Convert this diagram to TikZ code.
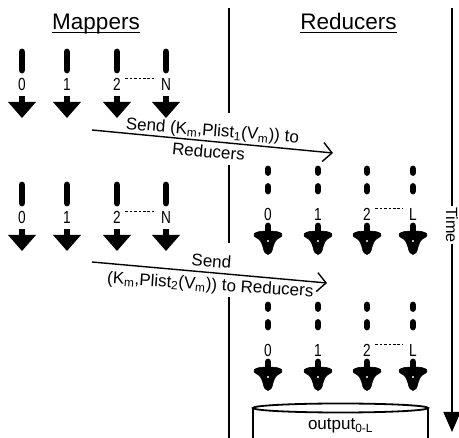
\documentclass[tikz,border=0pt]{standalone}
\usepackage{fontspec}
\setmainfont{Liberation Sans}
\usepackage{graphicx}
\usetikzlibrary{arrows.meta}
\tikzset{
  bar/.style={line width=6.8pt, line cap=round},
  digit/.style={inner sep=1.5pt, font=\fontsize{17.5}{19}\selectfont},
  dotline/.style={line width=1.3pt, dash pattern=on 2.6pt off 1.8pt, shorten <=3pt, shorten >=5pt},
  sendline/.style={line width=1.4pt, -{Straight Barb[length=9pt,width=19pt,line width=1.4pt]}},
  sendtext/.style={inner sep=0pt, anchor=base, font=\fontsize{17}{20}\selectfont},
  divider/.style={line width=1.8pt},
  title/.style={inner sep=0pt, anchor=base, font=\fontsize{22.5}{26}\selectfont},
  uline/.style={line width=1.1pt},
  timeline/.style={line width=1.8pt, -{Triangle[length=20pt,width=17pt]}},
  drum/.style={line width=1.8pt},
}
\newcommand{\dg}[1]{\scalebox{0.78}[1]{#1}}
\newcommand{\mapperunit}[4]{%
  \draw[bar] (#1,#2-32) -- (#1,#2-14);
  \node[digit] (#4) at (#1,#2) {\dg{#3}};
  \fill (#1-3.4,#2+12) rectangle (#1+3.4,#2+19);
  \fill (#1-14,#2+18) -- (#1+14,#2+18) -- (#1,#2+34) -- cycle;
}
\newcommand{\reducerunit}[4]{%
  \draw[bar] (#1,#2-45) -- (#1,#2-41.5);
  \draw[bar] (#1,#2-27.5) -- (#1,#2-23);
  \node[digit] (#4) at (#1,#2) {\dg{#3}};
  \draw[bar] (#1,#2+12) -- (#1,#2+20);
  \begin{scope}[shift={(#1,#2+17)}]
    \filldraw[line width=0.6pt, line join=round]
      (0,0) .. controls (-6,0) and (-11,0.5) .. (-13.5,2.5)
      .. controls (-14.8,3.8) and (-13.8,6) .. (-12,6.5)
      .. controls (-8,8) and (-6.5,11) .. (-5,16)
      .. controls (-4,21.5) and (-2,23.5) .. (0,23.5)
      .. controls (2,23.5) and (4,21.5) .. (5,16)
      .. controls (6.5,11) and (8,8) .. (12,6.5)
      .. controls (13.8,6) and (14.8,3.8) .. (13.5,2.5)
      .. controls (11,0.5) and (6,0) .. (0,0) -- cycle;
    \fill[white] (0,10) circle[radius=1.1pt];
  \end{scope}
}
\begin{document}
\begin{tikzpicture}[x=1pt,y=-1pt]
\useasboundingbox (0,0) rectangle (459,438);

% titles
\node[title] (mt) at (96,30) {Mappers};
\node[title] (rt) at (348.5,30) {Reducers};
\draw[uline] ([yshift=-2.6pt]mt.base west) -- ([yshift=-2.6pt]mt.base east);
\draw[uline] ([yshift=-2.6pt]rt.base west) -- ([yshift=-2.6pt]rt.base east);

% divider
\draw[divider] (229,8) -- (229,113);
\draw[divider] (229,165) -- (229,243);
\draw[divider] (229,297) -- (229,438);

% mappers row 1
\mapperunit{22}{84}{0}{m10}
\mapperunit{67}{84}{1}{m11}
\mapperunit{117}{84}{2}{m12}
\mapperunit{166}{84}{N}{m1N}
\draw[dotline] ([yshift=5.5pt]m12.east) -- ([yshift=5.5pt]m1N.west);

% mappers row 2
\mapperunit{22}{217}{0}{m20}
\mapperunit{67}{217}{1}{m21}
\mapperunit{117}{217}{2}{m22}
\mapperunit{166}{217}{N}{m2N}
\draw[dotline] ([yshift=5.5pt]m22.east) -- ([yshift=5.5pt]m2N.west);

% reducers row 1
\reducerunit{268}{214}{0}{r10}
\reducerunit{318}{214}{1}{r11}
\reducerunit{367}{214}{2}{r12}
\reducerunit{413}{214}{L}{r1L}
\draw[dotline] ([yshift=5.5pt]r12.east) -- ([yshift=5.5pt]r1L.west);

% reducers row 2
\reducerunit{268}{350}{0}{r20}
\reducerunit{318}{350}{1}{r21}
\reducerunit{367}{350}{2}{r22}
\reducerunit{413}{350}{L}{r2L}
\draw[dotline] ([yshift=5.5pt]r22.east) -- ([yshift=5.5pt]r2L.west);

% send arrow 1
\coordinate (s1a) at (92,130);
\coordinate (s1b) at (333,153);
\draw[sendline] (s1a) -- (s1b);
\node[sendtext, rotate=-4.5] (s1t) at (212,136) {Send (K\textsubscript{m},Plist\textsubscript{1}(V\textsubscript{m})) to};
\node[sendtext, rotate=-5] (s1u) at (208,157.5) {Reducers};

% send arrow 2
\coordinate (s2a) at (92,262);
\coordinate (s2b) at (327,283);
\draw[sendline] (s2a) -- (s2b);
\node[sendtext, rotate=-4.5] (s2t) at (211,267) {Send};
\node[sendtext, rotate=-3.8] (s2u) at (210,290) {(K\textsubscript{m},Plist\textsubscript{2}(V\textsubscript{m})) to Reducers};

% time axis
\coordinate (t0) at (452,8);
\coordinate (t1) at (452,432);
\draw[timeline] (t0) -- (t1);
\node[fill=white, inner sep=1.5pt, rotate=-90, font=\fontsize{16.2}{18}\selectfont] (time) at (452,225) {Time};

% output drum
\draw[drum] (253,440) -- (253,408);
\draw[drum] (428,440) -- (428,408);
\draw[drum] (340.5,408) ellipse [x radius=87.5, y radius=4.5];
\node[font=\fontsize{17}{20}\selectfont, inner sep=0pt] (out) at (340.5,426) {output\textsubscript{0-L}};
\end{tikzpicture}
\end{document}
